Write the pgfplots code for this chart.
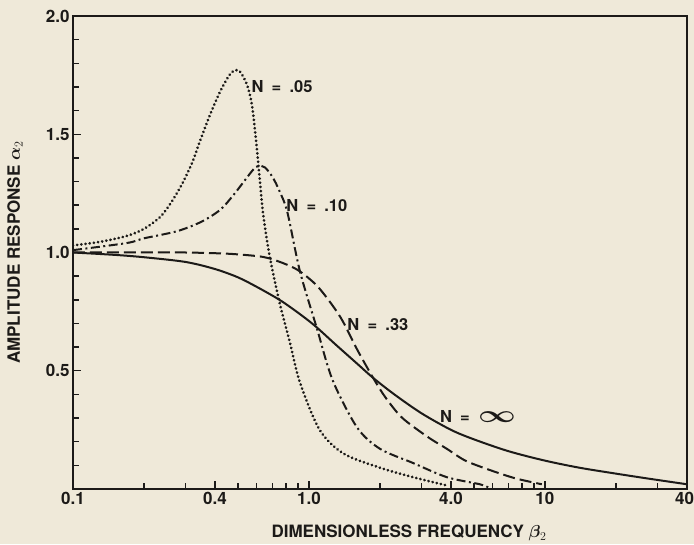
\documentclass[border=0pt]{standalone}
\usepackage{fontspec}
\setmainfont{TeX Gyre Heros}
\usepackage{bm}
\usepackage{pgfplots}
\pgfplotsset{compat=1.18}
\definecolor{paper}{RGB}{239,233,217}
\definecolor{ink}{RGB}{28,26,24}
\newcommand{\lbl}{\bfseries\fontsize{17}{20}\selectfont}
\newcommand{\nlbl}{\bfseries\fontsize{16.5}{20}\selectfont}
\begin{document}
\begin{tikzpicture}
\useasboundingbox (-73pt,-55pt) rectangle (621pt,489pt);
\fill[paper] (-73pt,-55pt) rectangle (621pt,489pt);
\begin{axis}[
    scale only axis, width=614pt, height=473pt,
    xmode=log, xmin=0.1, xmax=40, ymin=0, ymax=2,
    axis line style={line width=2pt, ink},
    xtick={0.1,0.4,1,4,10,40},
    xticklabels={0.1,0.4,1.0,4.0,10,\makebox[0pt][r]{40\hspace*{-7pt}}},
    minor xtick={0.2,0.3,0.5,0.6,0.7,0.8,0.9,2,3,5,6,7,8,9,20,30},
    ytick={0.5,1,1.5,2},
    yticklabels={0.5,1.0,1.5,2.0},
    minor ytick={0.1,0.2,0.3,0.4,0.6,0.7,0.8,0.9,1.1,1.2,1.3,1.4,1.6,1.7,1.8,1.9},
    xtick pos=bottom, ytick pos=left, tick align=inside,
    major tick length=8pt, minor tick length=6pt,
    tick style={ink, line width=1.4pt},
    tick label style={font=\lbl, text=ink},
    label style={font=\lbl, text=ink},
    xlabel={DIMENSIONLESS FREQUENCY $\bm{\beta}_2$},
    ylabel={AMPLITUDE RESPONSE $\bm{\alpha}_2$},
    xlabel style={at={(axis description cs:0.5,0)}, anchor=center, yshift=-44pt, xshift=29pt},
    ylabel style={at={(axis description cs:0,0.5)}, anchor=center, yshift=58pt},
]
% N = infinity, solid
\addplot[ink, line width=2pt, smooth] coordinates {
    (0.1,1.00) (0.15,0.99) (0.2,0.98) (0.3,0.96) (0.4,0.93) (0.5,0.895)
    (0.6,0.855) (0.75,0.80) (0.9,0.745) (1.06,0.69) (1.3,0.61) (1.6,0.53)
    (1.87,0.47) (2.3,0.40) (3.0,0.32) (4.0,0.25) (5.0,0.21) (7.0,0.16)
    (10,0.12) (14,0.09) (20,0.065) (27,0.045) (40,0.02)
};
% N = .33, dashed
\addplot[ink, line width=2pt, smooth, dash pattern=on 12pt off 5pt] coordinates {
    (0.1,1.00) (0.2,1.0) (0.3,1.0) (0.45,0.995) (0.6,0.985) (0.68,0.975)
    (0.8,0.95) (0.916,0.92) (1.08,0.86) (1.25,0.78) (1.39,0.71) (1.6,0.59)
    (1.87,0.47) (2.1,0.39) (2.43,0.31) (2.8,0.26) (3.3,0.21) (3.84,0.17)
    (4.6,0.12) (5.85,0.08) (7.5,0.045) (9.7,0.02)
};
% N = .10, dash-dot
\addplot[ink, line width=2pt, smooth, dash pattern=on 9pt off 3.5pt on 2pt off 3.5pt] coordinates {
    (0.1,1.01) (0.169,1.04) (0.2,1.06) (0.276,1.09) (0.35,1.13) (0.42,1.18)
    (0.476,1.24) (0.53,1.30) (0.58,1.35) (0.61,1.366) (0.65,1.36) (0.70,1.32)
    (0.75,1.26) (0.81,1.17) (0.916,0.92) (1.08,0.68) (1.26,0.46) (1.6,0.26)
    (2.0,0.17) (2.76,0.11) (3.84,0.05) (5.3,0.02) (5.8,0.005)
};
% N = .05, dotted
\addplot[ink, line width=3pt, smooth, line cap=round, dash pattern=on 0.01pt off 4.2pt] coordinates {
    (0.1,1.03) (0.13,1.045) (0.169,1.07) (0.2,1.10) (0.234,1.15) (0.26,1.21)
    (0.29,1.29) (0.32,1.38) (0.345,1.47) (0.38,1.58) (0.42,1.68) (0.46,1.75)
    (0.485,1.77) (0.51,1.765) (0.546,1.71) (0.574,1.62) (0.60,1.45) (0.62,1.30)
    (0.64,1.16) (0.68,0.99) (0.75,0.79) (0.83,0.62) (0.916,0.45) (1.11,0.25)
    (1.4,0.15) (2.0,0.09) (2.76,0.05) (3.84,0.015)
};
\node[font=\nlbl, text=ink] at (axis cs:0.769,1.70) {N\enspace=\enspace.05};
\node[font=\nlbl, text=ink] at (axis cs:1.08,1.20) {N\enspace=\enspace.10};
\node[font=\nlbl, text=ink] at (axis cs:1.96,0.695) {N\enspace=\enspace.33};
\node[font=\nlbl, text=ink] at (axis cs:5.2,0.305) {N\enspace=\enspace\scalebox{1.9}[1.4]{$\bm{\infty}$}};
\end{axis}
\end{tikzpicture}
\end{document}
